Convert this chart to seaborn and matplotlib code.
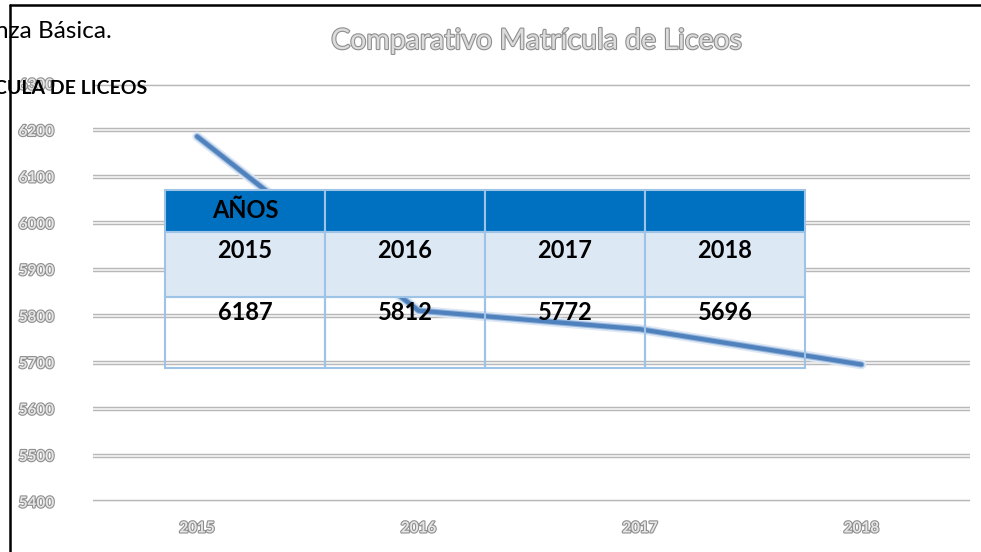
import pandas as pd
import numpy as np
import matplotlib
matplotlib.use("Agg")
import matplotlib.pyplot as plt
import matplotlib.patheffects as pe
from matplotlib.patches import Rectangle
import seaborn as sns

# data
years = ["2015", "2016", "2017", "2018"]
enrollment = [6187, 5812, 5772, 5696]
y_ticks = [5400, 5500, 5600, 5700, 5800, 5900, 6000, 6100, 6200, 6300]
chart_title = "Comparativo Matrícula de Liceos"
table_header = "AÑOS"
doc_text_1 = "nza Básica."
doc_text_2 = "CULA DE LICEOS"

sns.set_theme(style="white")
plt.rcParams['font.family'] = ['Lato', 'DejaVu Sans']

W, H = 981, 552
fig = plt.figure(figsize=(W / 100, H / 100), dpi=100)

def px_rect(x0, y0, x1, y1):
    return [x0 / W, (H - y1) / H, (x1 - x0) / W, (y1 - y0) / H]

outline = [pe.withStroke(linewidth=1.6, foreground="#8f8f8f")]

# chart
ax = fig.add_axes(px_rect(93, 84, 970, 502))
df = pd.DataFrame({"year": years, "value": enrollment})
for yv in y_ticks:
    ax.axhline(yv, color="#b8b8b8", lw=3.2, zorder=1)
    ax.axhline(yv, color="#ececec", lw=1.4, zorder=1)
sns.lineplot(data=df, x="year", y="value", ax=ax, color="#4f81bd", lw=3,
             zorder=3, sort=False,
             path_effects=[pe.Stroke(linewidth=7, foreground="#dde8f4"),
                           pe.Stroke(linewidth=4.5, foreground="#95b5dc"),
                           pe.Normal()])
ax.set_xlim(-0.47, 3.49)
ax.set_ylim(5400, 6300)
ax.set_yticks(y_ticks)
ax.set_yticklabels([str(v) for v in y_ticks])
ax.set_xlabel("")
ax.set_ylabel("")
for s in ax.spines.values():
    s.set_visible(False)
ax.tick_params(axis="y", length=0, pad=28)
ax.tick_params(axis="x", length=0, pad=14)
for lab in ax.get_yticklabels() + ax.get_xticklabels():
    lab.set_color("#e6e6e6")
    lab.set_fontsize(11)
    lab.set_fontweight("bold")
    lab.set_path_effects(outline)
fig.text(537 / W, 1 - 41 / H, chart_title, ha="center", va="center",
         fontsize=20.5, color="#dcdcdc", path_effects=outline)

# overlay: document fragments and table
ov = fig.add_axes([0, 0, 1, 1])
ov.set_xlim(0, W)
ov.set_ylim(H, 0)
ov.axis("off")
ov.patch.set_alpha(0)
ov.plot([10, W], [5, 5], color="black", lw=1.8)
ov.plot([10, 10], [5, H], color="black", lw=1.8)
ov.text(-5, 31, doc_text_1, ha="left", va="center", fontsize=17.5, color="black")
ov.text(-6, 89, doc_text_2, ha="left", va="center", fontsize=14,
        fontweight="bold", color="black")

col_x = [165, 325, 485, 645, 805]
row_y = [190, 232, 297, 368]
border = "#9dc3e6"
for i in range(len(years)):
    x0, x1 = col_x[i], col_x[i + 1]
    ov.add_patch(Rectangle((x0, row_y[0]), x1 - x0, row_y[1] - row_y[0],
                           facecolor="#0070c0", edgecolor=border, lw=1.5))
    ov.add_patch(Rectangle((x0, row_y[1]), x1 - x0, row_y[2] - row_y[1],
                           facecolor="#dde8f5", edgecolor=border, lw=1.5))
    ov.add_patch(Rectangle((x0, row_y[2]), x1 - x0, row_y[3] - row_y[2],
                           facecolor="none", edgecolor=border, lw=1.5))
    cx = (x0 + x1) / 2
    ov.text(cx, 250, years[i], ha="center", va="center", fontsize=17,
            fontweight="bold", color="black")
    ov.text(cx, 313, str(enrollment[i]), ha="center", va="center",
            fontsize=17, fontweight="bold", color="black")
ov.text((col_x[0] + col_x[1]) / 2, 211, table_header, ha="center",
        va="center", fontsize=17, fontweight="bold", color="black")

fig.savefig("out.png", dpi=100)
